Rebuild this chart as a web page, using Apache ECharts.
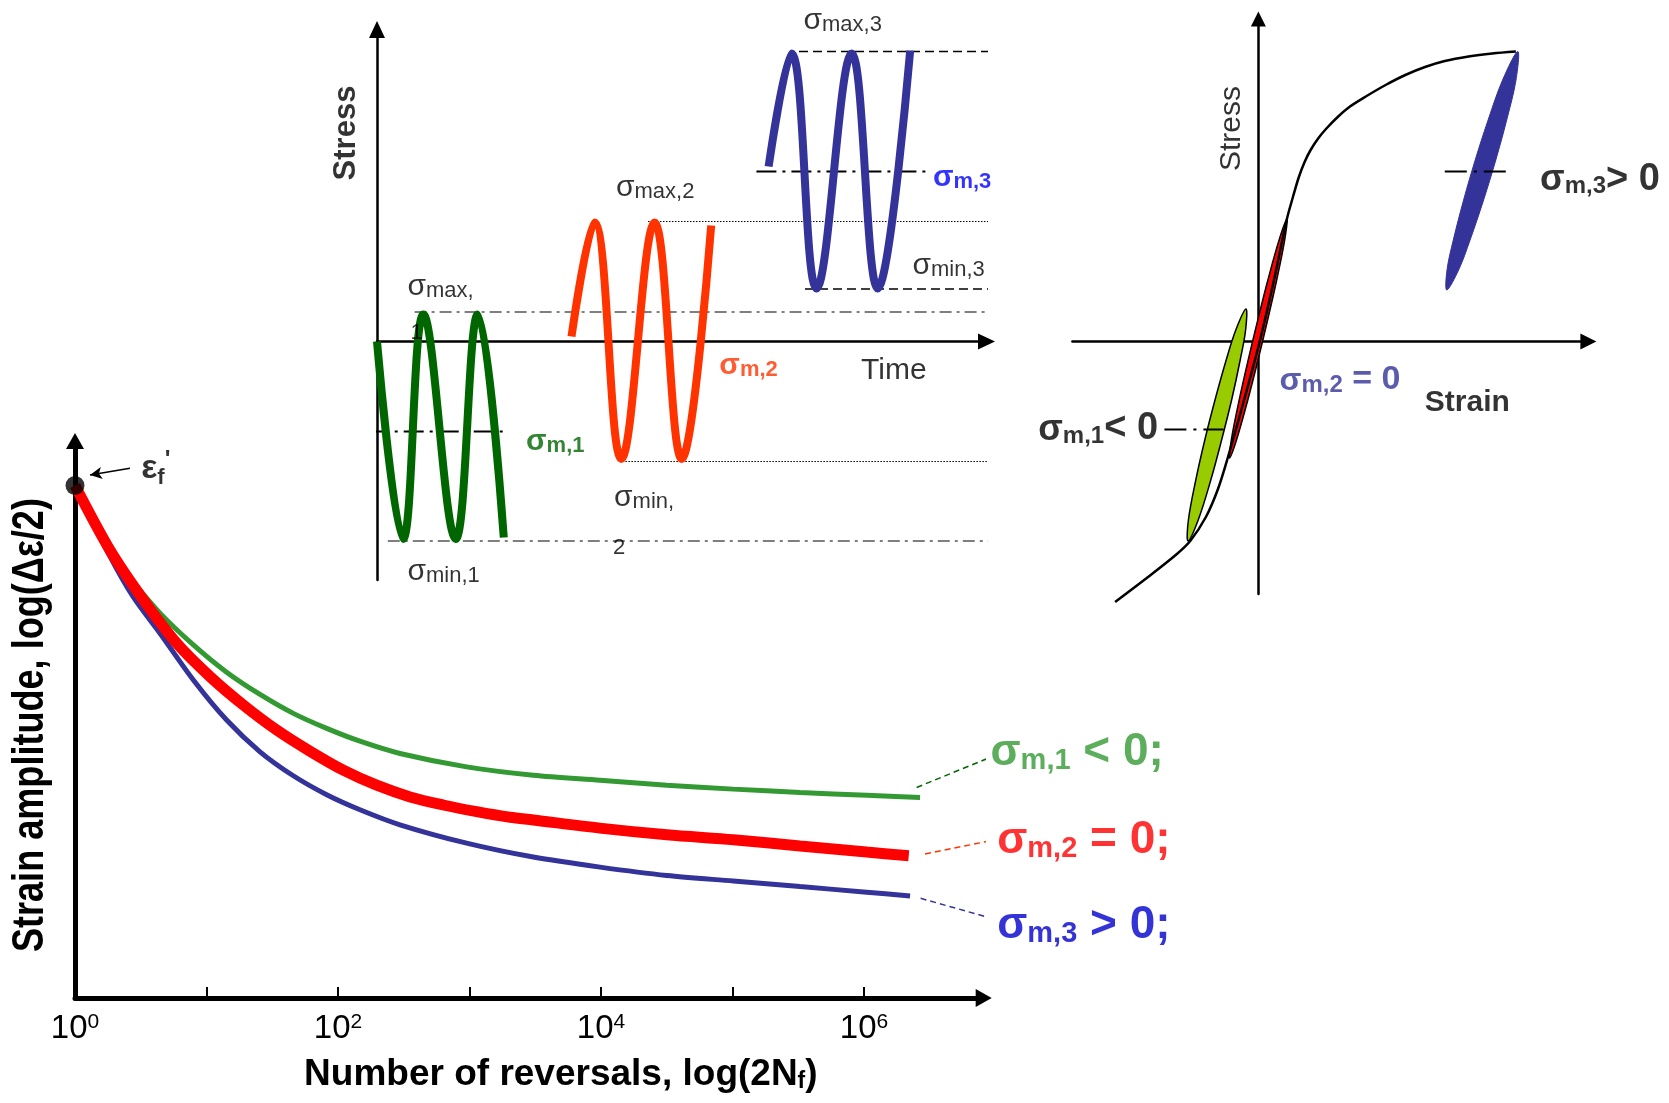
<!DOCTYPE html>
<html><head><meta charset="utf-8">
<script src="https://cdn.jsdelivr.net/npm/echarts@6/dist/echarts.min.js"></script>
<style>html,body{margin:0;padding:0;background:#fff}#c{width:1669px;height:1103px}</style>
</head><body><div id="c"></div>
<script>
// ================= DATA =================
// Main plot: x = log10(2Nf) (decades), y = log(Δε/2) (arbitrary units)
const decadeTicks = [1, 2, 3, 4, 5, 6];
const decadeLabels = [0, 2, 4, 6];
const efPoint = [[0, 9.2]];
const curveNeg = [[0,9.2],[0.266,8.06],[0.393,7.62],[0.646,6.91],[0.90,6.34],[1.153,5.85],[1.407,5.45],[1.66,5.11],[1.914,4.84],[2.167,4.61],[2.471,4.39],[2.978,4.15],[3.485,4.00],[3.992,3.91],[4.50,3.82],[5.006,3.75],[5.513,3.69],[6.02,3.64],[6.426,3.60]];
const curveZero = [[0,9.2],[0.266,8.04],[0.519,7.15],[0.773,6.37],[1.027,5.77],[1.28,5.26],[1.534,4.81],[1.787,4.43],[2.04,4.09],[2.294,3.82],[2.548,3.61],[2.80,3.465],[3.055,3.345],[3.308,3.245],[3.485,3.196],[3.99,3.05],[4.50,2.93],[5.006,2.84],[5.513,2.73],[6.02,2.62],[6.34,2.555]];
const curvePos = [[0,9.2],[0.266,7.93],[0.443,7.20],[0.646,6.55],[0.90,5.71],[1.153,4.99],[1.407,4.42],[1.66,3.99],[1.914,3.65],[2.167,3.38],[2.471,3.11],[2.978,2.78],[3.485,2.53],[3.992,2.35],[4.50,2.20],[5.006,2.10],[5.513,2.00],[6.02,1.90],[6.35,1.83]];
const leaderNeg = [[6.40,3.78],[6.928,4.29]];
const leaderZero = [[6.464,2.585],[6.996,2.84]];
const leaderPos = [[6.43,1.79],[6.971,1.43]];
const efArrow = [[0.418,9.51],[0.114,9.39]];

// Stress-time plot: x = time (arb.), y = stress (arb.)
const waveNeg = [[0,0],[0.427,-395],[0.761,54],[1.29,-395],[1.654,54],[2.08,-392]];
const waveZero = [[3.191,10],[3.569,238],[4.008,-235],[4.555,238],[4.999,-235],[5.483,232]];
const wavePos = [[6.425,350],[6.802,576],[7.211,106],[7.788,576],[8.215,106],[8.748,582]];
const refMax3 = [[6.924,580],[18.69,580]];
const refMin3 = [[7.022,105],[17.91,105]];
const refMax2 = [[4.446,240],[15.28,240]];
const refMin2 = [[3.977,-240],[14.215,-240]];
const refMax1 = [[0.617,59],[14.28,59]];
const refMin1 = [[0.177,-399],[13.31,-399]];
const refMean1 = [[-0.136,-180],[2.156,-180]];
const refMean3 = [[6.225,340],[9.007,340]];

// Stress-strain plot: x = strain (arb.), y = stress (arb.)
const sCurve = [[-0.7165,-521],[-0.5485,-470],[-0.4105,-426],[-0.341,-399],[-0.2625,-351],[-0.203,-296],[-0.1535,-233],[-0.075,-122],[0.004,-4],[0.0735,115],[0.1425,245],[0.172,288],[0.2015,328],[0.231,359],[0.261,383],[0.3005,407],[0.34,426],[0.399,450],[0.458,470],[0.537,490],[0.636,513],[0.7345,533],[0.833,549],[0.932,561],[1.0505,570],[1.169,576],[1.2875,580]];
const loopNeg = [[-0.352,-399],[-0.35,-357],[-0.313,-277],[-0.268,-197],[-0.217,-117],[-0.161,-37],[-0.113,23],[-0.062,65],[-0.064,23],[-0.091,-37],[-0.134,-117],[-0.184,-197],[-0.238,-277],[-0.301,-357]];
const loopZero = [[-0.144,-233],[-0.1355,-197],[-0.096,-117],[-0.051,-37],[-0.003,43],[0.0475,123],[0.1035,203],[0.1425,245],[0.1315,203],[0.0915,123],[0.046,43],[-0.002,-37],[-0.053,-117],[-0.1095,-197]];
const loopPos = [[0.942,103],[0.943,143],[0.9745,203],[1.026,283],[1.084,363],[1.1485,443],[1.221,523],[1.297,580],[1.288,523],[1.2415,443],[1.187,363],[1.126,283],[1.0585,203],[1.001,143]];
const meanLine1C = [[-0.47,-176],[-0.174,-176]];
const meanLine3C = [[0.932,340],[1.238,340]];

// ================= CHART =================
const FF = "'Liberation Sans', Arial, Helvetica, sans-serif";
const FN = "'Liberation Sans Narrow', 'Arial Narrow', 'Liberation Sans', sans-serif";

function ln(ai, data, color, width, type, extra) {
  return Object.assign({type:'line', xAxisIndex:ai, yAxisIndex:ai, data, symbol:'none', showSymbol:false,
    clip:false, silent:true, z:2, lineStyle:{color, width, type:type || 'solid', cap:'butt'}}, extra || {});
}
function mark(ai, coord, formatter, rich, extra) {
  return {type:'scatter', xAxisIndex:ai, yAxisIndex:ai, data:[coord], symbol:'circle', symbolSize:1,
    itemStyle:{color:'rgba(0,0,0,0)'}, clip:false, silent:true, z:20,
    label:Object.assign({show:true, position:'right', distance:0, formatter, rich:rich || {},
      fontFamily:FF, color:'#000'}, extra || {})};
}
function sigRich(color, bold, s, b, t, L, off) {
  const w = bold ? 'bold' : 'normal';
  return {
    s:{fontFamily:FF, fontWeight:w, fontSize:s, color, lineHeight:L, verticalAlign:'bottom'},
    b:{fontFamily:FF, fontWeight:w, fontSize:b, color, lineHeight:L - 2*off, verticalAlign:'bottom'},
    t:{fontFamily:FF, fontWeight:w, fontSize:t, color, lineHeight:L, verticalAlign:'bottom'}
  };
}
function loop(data, fill, stroke, lw) {
  return {type:'custom', xAxisIndex:2, yAxisIndex:2, data:[[0,0]], clip:false, silent:true, z:5,
    renderItem:(params, api) => ({type:'polygon', shape:{points:data.map(p => api.coord(p)), smooth:0.35},
      style:{fill, stroke:stroke || fill, lineWidth:lw || 0}})};
}
const rTop = sigRich('#000', false, 30, 22, 30, 34, 11);
const hiddenAxis = {axisTick:{show:false}, axisLabel:{show:false}, splitLine:{show:false}};
const yTitle = 'Strain amplitude, log(Δε/2)';

const option = {
  animation:false,
  backgroundColor:'#fff',
  grid:[
    {left:75, top:441, width:908.7, height:557, containLabel:false, outerBoundsMode:'none'},
    {left:377, top:29.5, width:609.5, height:550.5, containLabel:false, outerBoundsMode:'none'},
    {left:1072.4, top:19, width:516, height:575, containLabel:false, outerBoundsMode:'none'}
  ],
  xAxis:[
    {gridIndex:0, type:'value', min:0, max:6.91,
      axisLine:{show:true, onZero:false, symbol:['none','triangle'], symbolSize:[18,16], lineStyle:{color:'#000', width:5}},
      axisTick:{show:true, inside:true, length:11, customValues:decadeTicks, lineStyle:{color:'#000', width:2}},
      axisLabel:{show:true, margin:14, customValues:decadeLabels, formatter:v => '{n|10}{p|' + v + '}',
        rich:{n:{fontFamily:FN, fontSize:33, lineHeight:34, verticalAlign:'top', color:'#000'},
              p:{fontFamily:FN, fontSize:21, lineHeight:21, verticalAlign:'top', color:'#000'}}},
      splitLine:{show:false},
      name:'{t|Number of reversals, log(2N}{s|f}{t|)}', nameLocation:'middle', nameGap:53,
      nameTextStyle:{padding:[0,0,0,63], rich:{
        t:{fontFamily:FF, fontWeight:'bold', fontSize:37, lineHeight:42, verticalAlign:'bottom', color:'#000'},
        s:{fontFamily:FF, fontWeight:'bold', fontSize:23, lineHeight:22, verticalAlign:'bottom', color:'#000'}}}},
    Object.assign({gridIndex:1, type:'value', min:0, max:10,
      axisLine:{show:true, onZero:true, symbol:['none','triangle'], symbolSize:[16,17], lineStyle:{color:'#000', width:2.5}}}, hiddenAxis),
    Object.assign({gridIndex:2, type:'value', min:-0.93, max:1.65,
      axisLine:{show:true, onZero:true, symbol:['none','triangle'], symbolSize:[16,16], lineStyle:{color:'#000', width:2.5}}}, hiddenAxis)
  ],
  yAxis:[
    Object.assign({gridIndex:0, type:'value', min:0, max:10,
      axisLine:{show:true, onZero:false, symbol:['none','triangle'], symbolSize:[18,16], lineStyle:{color:'#000', width:5}}}, hiddenAxis),
    Object.assign({gridIndex:1, type:'value', min:-477, max:624,
      axisLine:{show:true, onZero:true, symbol:['none','triangle'], symbolSize:[16,17], lineStyle:{color:'#000', width:2.5}}}, hiddenAxis),
    Object.assign({gridIndex:2, type:'value', min:-505, max:645,
      axisLine:{show:true, onZero:true, symbol:['none','triangle'], symbolSize:[15,15], lineStyle:{color:'#000', width:2.5}}}, hiddenAxis)
  ],
  series:[
    // ---- main plot ----
    ln(0, curveNeg, '#339933', 5, 'solid', {smooth:0.3, z:3}),
    ln(0, curvePos, '#333399', 5, 'solid', {smooth:0.3, z:3}),
    ln(0, curveZero, '#FF0000', 11, 'solid', {smooth:0.3, z:4}),
    ln(0, leaderNeg, '#006600', 1.5, [6,4]),
    ln(0, leaderZero, '#FF3300', 1.5, [6,4]),
    ln(0, leaderPos, '#333399', 1.5, [6,4]),
    ln(0, efArrow, '#000', 0, 'solid', {
      markLine:{silent:true, symbol:['none','arrow'], symbolSize:[9,12], lineStyle:{color:'#000', width:1.5, type:'solid'},
        label:{show:false}, data:[[{coord:efArrow[0]},{coord:efArrow[1]}]]}}),
    {type:'scatter', xAxisIndex:0, yAxisIndex:0, data:efPoint, symbolSize:19, itemStyle:{color:'#000'}, z:8, silent:true, clip:false},
    // y-axis title (condensed bold, as in the original)
    {type:'custom', xAxisIndex:0, yAxisIndex:0, data:[[-0.335, 4.90]], clip:false, silent:true, z:10,
      renderItem:(params, api) => {
        const p = api.coord([api.value(0), api.value(1)]);
        return {type:'text', x:p[0], y:p[1], rotation:Math.PI/2, scaleX:0.82,
          style:{text:yTitle, fill:'#000', fontFamily:FF, fontWeight:'bold', fontSize:44,
            align:'center', verticalAlign:'middle', textAlign:'center', textVerticalAlign:'middle'}};
      }},
    mark(0, [0.4996, 9.50], '{e|ε}{f|f}{p|\'}', {
      e:{fontFamily:FF, fontWeight:'bold', fontSize:34, lineHeight:40, verticalAlign:'middle', color:'#000'},
      f:{fontFamily:FF, fontWeight:'bold', fontSize:22, lineHeight:22, verticalAlign:'bottom', color:'#000'},
      p:{fontFamily:FF, fontWeight:'bold', fontSize:24, lineHeight:20, verticalAlign:'top', color:'#000'}}),
    mark(0, [6.958, 4.45], '{s|σ}{b|m,1}{t| < 0;}', sigRich('#339933', true, 44, 29, 46, 50, 14)),
    mark(0, [7.009, 2.867], '{s|σ}{b|m,2}{t| = 0;}', sigRich('#FF0000', true, 44, 29, 46, 50, 14)),
    mark(0, [7.009, 1.341], '{s|σ}{b|m,3}{t| > 0;}', sigRich('#0000CC', true, 44, 29, 46, 50, 14)),

    // ---- stress-time plot ----
    ln(1, refMax3, '#000', 1.3, [9,5]),
    ln(1, refMin3, '#000', 1.3, [9,5]),
    ln(1, refMax2, '#000', 1, [1.5,1.5]),
    ln(1, refMin2, '#000', 1, [1.5,1.5]),
    ln(1, refMax1, '#555', 1.5, [12,5,3,5]),
    ln(1, refMin1, '#555', 1.5, [12,5,3,5]),
    ln(1, refMean1, '#000', 2, [20,6,3,6]),
    ln(1, refMean3, '#000', 2, [20,6,3,6]),
    ln(1, waveNeg, '#006600', 8, 'solid', {smooth:0.4, z:4}),
    ln(1, waveZero, '#FF3300', 8, 'solid', {smooth:0.4, z:4}),
    ln(1, wavePos, '#333399', 8, 'solid', {smooth:0.4, z:4}),
    mark(1, [0.492, 113], '{s|σ}{b|max,}', rTop),
    mark(1, [0.541, 17], '1', null, {fontSize:22}),
    mark(1, [3.913, 311], '{s|σ}{b|max,2}', rTop),
    mark(1, [3.882, -308], '{s|σ}{b|min,}', rTop),
    mark(1, [3.864, -413], '2', null, {fontSize:22}),
    mark(1, [0.492, -457], '{s|σ}{b|min,1}', rTop),
    mark(1, [2.438, -197], '{s|σ}{b|m,1}', sigRich('#006600', true, 30, 22, 30, 34, 10)),
    mark(1, [5.609, -44], '{s|σ}{b|m,2}', sigRich('#FF3300', true, 30, 22, 30, 34, 10)),
    mark(1, [9.112, 331], '{s|σ}{b|m,3}', sigRich('#0000FF', true, 30, 22, 30, 34, 10)),
    mark(1, [6.989, 645], '{s|σ}{b|max,3}', rTop),
    mark(1, [8.777, 155], '{s|σ}{b|min,3}', rTop),
    mark(1, [7.933, -59], 'Time', null, {fontSize:30}),
    mark(1, [-0.5, 417], 'Stress', null, {fontSize:31, fontWeight:'bold', rotate:90, position:'inside', align:'center', verticalAlign:'middle'}),

    // ---- stress-strain plot ----
    loop(loopNeg, '#99CC00', '#000', 1.5),
    loop(loopZero, '#FF0000', '#000', 1.5),
    loop(loopPos, '#333399', '#333399', 1),
    ln(2, sCurve, '#000', 2.5, 'solid', {smooth:0.3, z:6}),
    ln(2, meanLine1C, '#000', 2, [22,7,3,7], {z:7}),
    ln(2, meanLine3C, '#000', 2, [22,7,3,7], {z:7}),
    mark(2, [-0.134, 426], 'Stress', null, {fontSize:30, rotate:90, position:'inside', align:'center', verticalAlign:'middle'}),
    mark(2, [1.4055, 326], '{s|σ}{b|m,3}{t|> 0}', sigRich('#000', true, 36, 24, 38, 40, 11)),
    mark(2, [0.103, -75], '{s|σ}{b|m,2}{t| = 0}', sigRich('#333399', true, 32, 24, 34, 36, 10)),
    mark(2, [0.8295, -122], 'Strain', null, {fontSize:30, fontWeight:'bold'}),
    mark(2, [-0.499, -173], '{s|σ}{b|m,1}{t|< 0}', sigRich('#000', true, 36, 24, 38, 40, 11), {position:'left'})
  ]
};
const chart = echarts.init(document.getElementById('c'), null, {renderer:'canvas'});
chart.setOption(option);
</script></body></html>
